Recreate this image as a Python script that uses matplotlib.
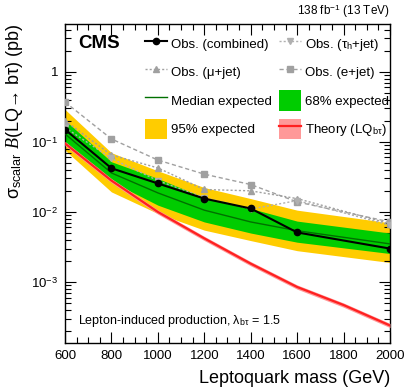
import matplotlib
matplotlib.use("Agg")
import matplotlib.pyplot as plt
from matplotlib.lines import Line2D
from matplotlib.patches import Patch
from matplotlib.ticker import FixedLocator, FixedFormatter, MultipleLocator, LogLocator, NullFormatter
import numpy as np

plt.rcParams['font.family'] = ['Liberation Sans', 'DejaVu Sans']
plt.rcParams['mathtext.fontset'] = 'custom'
plt.rcParams['mathtext.rm'] = 'Liberation Sans'
plt.rcParams['mathtext.it'] = 'Liberation Serif:italic'
plt.rcParams['mathtext.bf'] = 'Liberation Sans:bold'

mass = [600, 800, 1000, 1200, 1400, 1600, 2000]
obs_comb = [0.150, 0.042, 0.0255, 0.0155, 0.0112, 0.0051, 0.0030]
obs_e = [0.37, 0.11, 0.055, 0.0346, 0.0246, 0.0139, 0.0072]
obs_mu = [0.20, 0.065, 0.0425, 0.0209, 0.020, 0.0155, 0.0068]
obs_tau = [0.16, 0.058, 0.028, 0.016, 0.0110, 0.0145, 0.0065]
exp_med = [0.13, 0.036, 0.0187, 0.0106, 0.0072, 0.0054, 0.0035]
exp_68_lo = [0.097, 0.027, 0.0125, 0.0072, 0.0050, 0.0037, 0.00255]
exp_68_hi = [0.204, 0.052, 0.030, 0.016, 0.0112, 0.0074, 0.0050]
exp_95_lo = [0.076, 0.0193, 0.0095, 0.0055, 0.0039, 0.0028, 0.0019]
exp_95_hi = [0.29, 0.070, 0.0386, 0.0223, 0.0155, 0.0106, 0.0070]
th_mass = [600, 800, 1000, 1200, 1400, 1600, 1800, 2000]
theory = [0.095, 0.028, 0.0100, 0.0042, 0.00183, 0.00085, 0.00047, 0.00024]

fig = plt.figure(figsize=(4.07, 3.91), dpi=100)
ax = fig.add_axes([0.1597, 0.1228, 0.7985, 0.8158])

yellow = '#FFCC00'
green = '#00CC00'
grey = '#A0A0A0'

ax.fill_between(mass, exp_95_lo, exp_95_hi, color=yellow, lw=0, zorder=1)
ax.fill_between(mass, exp_68_lo, exp_68_hi, color=green, lw=0, zorder=2)
ax.plot(mass, exp_med, color='#007000', lw=1.0, zorder=3)
th = np.array(theory)
ax.fill_between(th_mass, th * 0.93, th * 1.07, color='#FF9999', lw=0, zorder=3)
ax.plot(th_mass, theory, color='#FF2020', lw=1.6, zorder=4)
ax.plot(mass, obs_e, color=grey, ls=(0, (3, 2)), lw=1.0, marker='s', ms=4, mec=grey, mfc=grey, zorder=5)
ax.plot(mass, obs_mu, color=grey, ls=(0, (1.5, 1.5)), lw=1.0, marker='^', ms=4, mec=grey, mfc=grey, zorder=5)
ax.plot(mass, obs_tau, color='#B0B0B0', ls=(0, (1.5, 1.5)), lw=1.0, marker='v', ms=4, mec='#B0B0B0', mfc='#B0B0B0', zorder=5)
ax.plot(mass, obs_comb, color='black', lw=1.5, marker='o', ms=4.5, zorder=6)

ax.set_yscale('log')
ax.set_xlim(600, 2000)
ax.set_ylim(1.35e-4, 4.8)

ax.xaxis.set_major_locator(MultipleLocator(200))
ax.xaxis.set_minor_locator(MultipleLocator(50))
ax.yaxis.set_major_locator(FixedLocator([1e-3, 1e-2, 1e-1, 1]))
ax.yaxis.set_major_formatter(FixedFormatter([r'$10^{-3}$', r'$10^{-2}$', r'$10^{-1}$', '1']))
ax.yaxis.set_minor_locator(LogLocator(base=10, subs=np.arange(2, 10), numticks=20))
ax.yaxis.set_minor_formatter(NullFormatter())
ax.tick_params(which='both', direction='in', top=True, right=True, labelsize=9.5, pad=5)
ax.tick_params(which='major', length=8, width=0.8)
ax.tick_params(which='minor', length=4, width=0.8)
for s in ax.spines.values():
    s.set_linewidth(1.0)

ax.set_xlabel('Leptoquark mass (GeV)', fontsize=13, ha='right', x=1.0, labelpad=6)
ax.set_ylabel(r'σ$_{\mathrm{scalar}}$ $\mathit{B}$(LQ→ bτ) (pb)', fontsize=13, ha='right', y=1.0, labelpad=4)

ax.text(0.04, 0.94, 'CMS', transform=ax.transAxes, fontsize=13.5, fontweight='bold', va='center', ha='left')
fig.text(0.958, 0.97, r'138 fb$^{-1}$ (13 TeV)', fontsize=8.5, ha='right', va='center')
ax.text(0.04, 0.07, r'Lepton-induced production, λ$_{\mathrm{bτ}}$ = 1.5', transform=ax.transAxes,
        fontsize=9, ha='left', va='center')

h_comb = Line2D([], [], color='black', lw=1.5, marker='o', ms=4.5)
h_tau = Line2D([], [], color='#B0B0B0', ls=(0, (1.5, 1.5)), lw=1.0, marker='v', ms=4)
h_mu = Line2D([], [], color=grey, ls=(0, (1.5, 1.5)), lw=1.0, marker='^', ms=4)
h_e = Line2D([], [], color=grey, ls=(0, (3, 2)), lw=1.0, marker='s', ms=4)
h_med = Line2D([], [], color='#007000', lw=1.0)
h_68 = Patch(facecolor=green, edgecolor='none')
h_95 = Patch(facecolor=yellow, edgecolor='none')
h_th_patch = Patch(facecolor='#FF9999', edgecolor='none')
h_th_line = Line2D([], [], color='#FF2020', lw=1.6)

handles = [h_comb, h_mu, h_med, h_95, h_tau, h_e, h_68, (h_th_patch, h_th_line)]
labels = ['Obs. (combined)', 'Obs. (μ+jet)', 'Median expected', '95% expected',
          r'Obs. (τ$_{\mathrm{h}}$+jet)', 'Obs. (e+jet)', '68% expected', r'Theory (LQ$_{\mathrm{bτ}}$)']
leg = ax.legend(handles, labels, ncol=2, loc='upper left', bbox_to_anchor=(142 / 407, 1 - 31 / 391),
                bbox_transform=fig.transFigure, frameon=False, fontsize=9.5,
                handlelength=1.7, handleheight=2.0, handletextpad=0.3, columnspacing=0.5,
                labelspacing=0.6, borderpad=0.2, borderaxespad=0)

fig.savefig('out.png', dpi=100)
